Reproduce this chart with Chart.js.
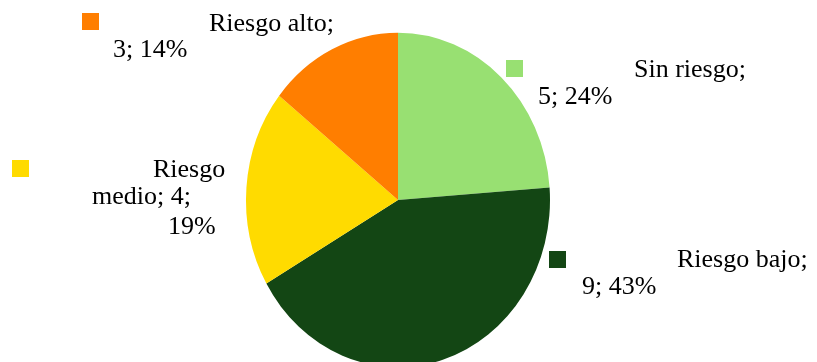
<!DOCTYPE html>
<html>
<head>
<meta charset="utf-8">
<script src="https://cdn.jsdelivr.net/npm/chart.js@4"></script>
<style>
  body { margin: 0; background: #fff; }
  #wrap { width: 817px; height: 362px; }
</style>
</head>
<body>
<div id="wrap"><canvas id="myChart" width="817" height="362"></canvas></div>
<script>
// chart data
const categories = ['Sin riesgo', 'Riesgo bajo', 'Riesgo medio', 'Riesgo alto'];
const counts = [5, 9, 4, 3];
const colors = ['#98E072', '#134614', '#FFDB00', '#FF7E00'];

const total = counts.reduce((a, b) => a + b, 0);

// where each label goes (square + lines of text); words = how many words on each line
const labelLayout = [
  { box: [506, 60], words: [2, 2], lines: [[634, 77], [538, 104]] },
  { box: [549, 251], words: [2, 2], lines: [[677, 267], [582, 294]] },
  { box: [12, 160], words: [1, 2, 1], lines: [[153, 177], [92, 204], [168, 234]] },
  { box: [82, 13], words: [2, 2], lines: [[209, 31], [113, 57]] }
];

// pie is a bit taller than wide in the picture, stretch it around its center
const stretchPie = {
  id: 'stretchPie',
  beforeDatasetsDraw(chart) {
    const arc = chart.getDatasetMeta(0).data[0];
    const ctx = chart.ctx;
    ctx.save();
    ctx.translate(0, arc.y);
    ctx.scale(1, 1.1);
    ctx.translate(0, -arc.y);
  },
  afterDatasetsDraw(chart) {
    chart.ctx.restore();
  }
};

// labels with their colour square, like the excel ones
const sliceLabels = {
  id: 'sliceLabels',
  afterDraw(chart) {
    const ctx = chart.ctx;
    ctx.save();
    ctx.font = '26px "Liberation Serif", "Times New Roman", serif';
    ctx.textBaseline = 'alphabetic';
    ctx.textAlign = 'left';
    for (let i = 0; i < categories.length; i++) {
      const lay = labelLayout[i];
      ctx.fillStyle = colors[i];
      ctx.fillRect(lay.box[0], lay.box[1], 17, 17);
      const pct = Math.round(counts[i] / total * 100);
      const words = (categories[i] + '; ' + counts[i] + '; ' + pct + '%').split(' ');
      let k = 0;
      ctx.fillStyle = '#000';
      lay.words.forEach((n, j) => {
        const txt = words.slice(k, k + n).join(' ');
        k += n;
        ctx.fillText(txt, lay.lines[j][0], lay.lines[j][1]);
      });
    }
    ctx.restore();
  }
};

const ctx = document.getElementById('myChart');
const myChart = new Chart(ctx, {
  type: 'pie',
  data: {
    labels: categories,
    datasets: [{
      data: counts,
      backgroundColor: colors,
      borderWidth: 0,
      radius: 152
    }]
  },
  options: {
    responsive: false,
    animation: false,
    events: [],
    layout: { padding: { top: 38, right: 21, bottom: 0, left: 0 } },
    plugins: {
      legend: { display: false },
      tooltip: { enabled: false }
    }
  },
  plugins: [stretchPie, sliceLabels]
});
</script>
</body>
</html>
